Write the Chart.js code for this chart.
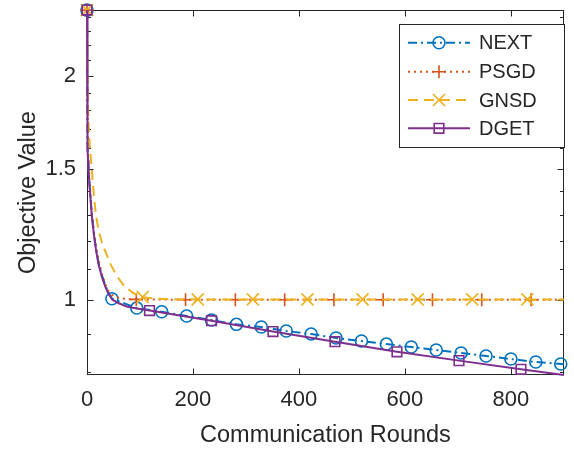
<!DOCTYPE html>
<html>
<head>
<meta charset="utf-8">
<script src="https://cdn.jsdelivr.net/npm/chart.js@4.4.1/dist/chart.umd.min.js"></script>
<style>
  html, body { margin: 0; padding: 0; background: #fff; }
</style>
</head>
<body>
<canvas id="chart" width="574" height="450"></canvas>
<script>
const FONT = '"Liberation Sans", Arial, Helvetica, sans-serif';
const INK = '#262626';

// objective value per communication round (markers only on the *Marks rounds)
const nextRounds = [0, 1, 2, 3, 5, 9, 13, 17, 22, 28, 34, 40, 47, 94, 141, 188, 235, 282, 329, 376, 423, 470, 518, 565, 612, 659, 706, 753, 800, 847, 894, 900];
const nextValues = [2.454, 1.61, 1.545, 1.495, 1.425, 1.305, 1.23, 1.172, 1.12, 1.08, 1.05, 1.025, 1.004, 0.9755, 0.9644, 0.9517, 0.940, 0.9276, 0.9199, 0.9087, 0.9002, 0.8892, 0.8809, 0.8726, 0.8646, 0.8566, 0.8487, 0.8409, 0.8331, 0.8254, 0.8204, 0.8198];
const nextMarks = [0, 47, 94, 141, 188, 235, 282, 329, 376, 423, 470, 518, 565, 612, 659, 706, 753, 800, 847, 894];

const psgdRounds = [0, 1, 2, 3, 5, 9, 13, 17, 22, 28, 34, 40, 47, 60, 75, 93, 186, 280, 373, 466, 559, 652, 745, 838, 900];
const psgdValues = [2.454, 1.62, 1.555, 1.505, 1.435, 1.31, 1.235, 1.18, 1.13, 1.085, 1.052, 1.03, 1.016, 1.007, 1.003, 1.002, 1.001, 1.001, 1.001, 1.001, 1.001, 1.001, 1.001, 1.001, 1.001];
const psgdMarks = [0, 93, 186, 280, 373, 466, 559, 652, 745, 838];

const gnsdRounds = [0, 1, 2, 3, 5, 7, 11, 14, 17, 22, 28, 34, 45, 56, 70, 87, 105, 130, 160, 209, 313, 416, 520, 624, 727, 831, 900];
const gnsdValues = [2.454, 2.0, 1.82, 1.72, 1.62, 1.56, 1.437, 1.36, 1.30, 1.24, 1.195, 1.165, 1.115, 1.078, 1.045, 1.022, 1.009, 1.004, 1.0025, 1.002, 1.002, 1.002, 1.002, 1.002, 1.002, 1.002, 1.002];
const gnsdMarks = [0, 105, 209, 313, 416, 520, 624, 727, 831];

const dgetRounds = [0, 1, 2, 3, 5, 9, 13, 17, 22, 28, 34, 40, 48, 60, 75, 94, 118, 235, 351, 468, 585, 702, 819, 900];
const dgetValues = [2.454, 1.60, 1.54, 1.49, 1.42, 1.30, 1.225, 1.167, 1.115, 1.075, 1.045, 1.021, 1.001, 0.990, 0.980, 0.974, 0.968, 0.938, 0.907, 0.879, 0.852, 0.829, 0.807, 0.793];
const dgetMarks = [0, 118, 235, 351, 468, 585, 702, 819];

const xTicks = [0, 200, 400, 600, 800];
const yTicks = [0.8, 0.9, 1, 1.1, 1.2, 1.3, 1.4, 1.5, 1.6, 1.7, 1.8, 1.9, 2, 2.1, 2.2, 2.3, 2.4];
const yLabels = [1, 1.5, 2];

const series = [
  { label: 'NEXT', rounds: nextRounds, values: nextValues, marks: nextMarks, color: '#0072BD', dash: [9, 4, 2, 4], style: 'circle', r: 6 },
  { label: 'PSGD', rounds: psgdRounds, values: psgdValues, marks: psgdMarks, color: '#D95319', dash: [2, 4], style: 'cross', r: 6.5 },
  { label: 'GNSD', rounds: gnsdRounds, values: gnsdValues, marks: gnsdMarks, color: '#EDB120', dash: [10, 6], style: 'crossRot', r: 8.5 },
  { label: 'DGET', rounds: dgetRounds, values: dgetValues, marks: dgetMarks, color: '#7E2F8E', dash: [], style: 'rect', r: 6.8 }
];

const datasets = series.map((s, i) => ({
  label: s.label,
  data: s.rounds.map((x, k) => ({ x, y: s.values[k] })),
  borderColor: s.color,
  borderWidth: 2,
  borderDash: s.dash,
  pointStyle: s.style,
  pointRadius: c => s.marks.includes(s.rounds[c.dataIndex]) ? s.r : 0,
  pointBorderColor: s.color,
  pointBackgroundColor: 'rgba(0,0,0,0)',
  pointBorderWidth: 1.6,
  tension: 0,
  clip: false,
  order: series.length - i
}));

// box with inward ticks on all four sides
const axesBox = {
  id: 'axesBox',
  beforeDatasetsDraw(chart) {
    const { ctx, chartArea: a, scales: { x, y } } = chart;
    const seg = (x1, y1, x2, y2) => { ctx.beginPath(); ctx.moveTo(x1, y1); ctx.lineTo(x2, y2); ctx.stroke(); };
    ctx.save();
    ctx.strokeStyle = INK;
    ctx.lineWidth = 1;
    const L = Math.round(a.left) + 0.5, R = Math.round(a.right) - 0.5;
    const T = Math.round(a.top) + 0.5, B = Math.round(a.bottom) - 0.5;
    ctx.strokeRect(L, T, R - L, B - T);
    xTicks.forEach(v => {
      const px = Math.round(x.getPixelForValue(v)) + 0.5;
      seg(px, B, px, B - 6);
      seg(px, T, px, T + 6);
    });
    yTicks.forEach(v => {
      const py = Math.round(y.getPixelForValue(v)) + 0.5;
      const len = yLabels.includes(v) ? 6 : 3.5;
      seg(L, py, L + len, py);
      seg(R, py, R - len, py);
    });
    ctx.restore();
  }
};

const legendBox = {
  id: 'legendBox',
  afterDraw(chart) {
    const { ctx } = chart;
    const bx = 399.5, by = 24.5, bw = 165, bh = 123;
    const rows = [42.7, 71.7, 100, 128.3];
    ctx.save();
    ctx.fillStyle = '#fff';
    ctx.fillRect(bx, by, bw, bh);
    ctx.strokeStyle = INK;
    ctx.lineWidth = 1;
    ctx.strokeRect(bx, by, bw, bh);
    series.forEach((s, i) => {
      const ry = rows[i];
      ctx.save();
      ctx.strokeStyle = s.color;
      ctx.lineWidth = 2;
      ctx.setLineDash(s.dash);
      ctx.beginPath();
      ctx.moveTo(408, ry);
      ctx.lineTo(470, ry);
      ctx.stroke();
      ctx.setLineDash([]);
      ctx.lineWidth = 1.6;
      ctx.fillStyle = 'rgba(0,0,0,0)';
      Chart.helpers.drawPoint(ctx, { pointStyle: s.style, radius: s.r, rotation: 0, borderWidth: 1.6 }, 439, ry);
      ctx.restore();
      ctx.fillStyle = INK;
      ctx.font = '20px ' + FONT;
      ctx.textBaseline = 'middle';
      ctx.textAlign = 'left';
      ctx.fillText(s.label, 479, ry + 1);
    });
    ctx.restore();
  }
};

new Chart(document.getElementById('chart'), {
  type: 'line',
  data: { datasets },
  options: {
    responsive: false,
    animation: false,
    events: [],
    layout: { padding: { top: 10, right: 4, left: 0, bottom: 0 } },
    plugins: { legend: { display: false }, tooltip: { enabled: false } },
    scales: {
      x: {
        type: 'linear',
        min: 0,
        max: 900,
        afterBuildTicks: s => { s.ticks = xTicks.map(v => ({ value: v })); },
        afterFit: s => { s.height = 75; s.paddingLeft = 0; s.paddingRight = 0; },
        grid: { display: false, drawTicks: false },
        border: { display: false },
        ticks: { color: INK, font: { family: FONT, size: 22 }, padding: 12, maxRotation: 0 },
        title: { display: true, text: 'Communication Rounds', color: INK, font: { family: FONT, size: 23.5 }, padding: { top: 7, bottom: 0 } }
      },
      y: {
        type: 'logarithmic',
        min: 0.7929,
        max: 2.454,
        afterBuildTicks: s => { s.ticks = yTicks.map(v => ({ value: v })); },
        afterFit: s => { s.width = 87; s.paddingTop = 0; s.paddingBottom = 0; },
        grid: { display: false, drawTicks: false },
        border: { display: false },
        ticks: {
          color: INK, font: { family: FONT, size: 22 }, padding: 11, autoSkip: false,
          callback: v => yLabels.includes(v) ? String(v) : ''
        },
        title: { display: true, text: 'Objective Value', color: INK, font: { family: FONT, size: 23.5 }, padding: { top: 14, bottom: 0 } }
      }
    }
  },
  plugins: [axesBox, legendBox]
});
</script>
</body>
</html>
